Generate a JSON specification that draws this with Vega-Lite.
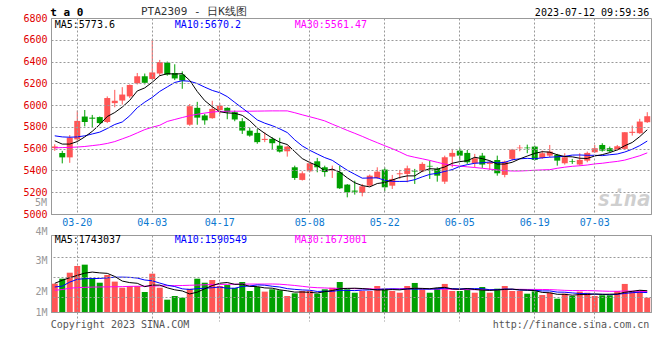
{
  "$schema": "https://vega.github.io/schema/vega-lite/v6.json",
  "background": "#ffffff",
  "padding": {"left": 22, "top": 5, "right": 8, "bottom": 4},
  "bounds": "flush",
  "spacing": 21,
  "config": {
    "font": "DejaVu Sans Mono",
    "view": {"stroke": "#999999", "strokeWidth": 1, "fill": null},
    "axis": {"labelFont": "DejaVu Sans Mono", "labelFontSize": 10, "ticks": false, "domain": false, "zindex": 1}
  },
  "datasets": {
    "k": [
      {"d":"03-15","o":5605,"h":5640,"l":5580,"c":5620,"v":2320000,"m5":5672,"m10":5718,"m30":5607,"vm5":2350000,"vm10":2050000,"vm30":1780000},
      {"d":"03-16","o":5560,"h":5580,"l":5465,"c":5520,"v":2730000,"m5":5642,"m10":5708,"m30":5610,"vm5":2600000,"vm10":2120000,"vm30":1840000},
      {"d":"03-17","o":5520,"h":5725,"l":5470,"c":5700,"v":3220000,"m5":5642,"m10":5705,"m30":5612,"vm5":2810000,"vm10":2450000,"vm30":1950000},
      {"d":"03-20","o":5685,"h":5950,"l":5670,"c":5855,"v":3770000,"m5":5665,"m10":5708,"m30":5615,"vm5":3000000,"vm10":2680000,"vm30":2000000},
      {"d":"03-21","o":5895,"h":5955,"l":5805,"c":5845,"v":3880000,"m5":5708,"m10":5718,"m30":5620,"vm5":3184000,"vm10":2730000,"vm30":2020000},
      {"d":"03-22","o":5885,"h":5910,"l":5797,"c":5875,"v":2760000,"m5":5759,"m10":5735,"m30":5628,"vm5":3272000,"vm10":2740000,"vm30":2040000},
      {"d":"03-23","o":5890,"h":5895,"l":5825,"c":5835,"v":2400000,"m5":5822,"m10":5752,"m30":5636,"vm5":3206000,"vm10":2750000,"vm30":2050000},
      {"d":"03-24","o":5845,"h":6080,"l":5835,"c":6065,"v":3030000,"m5":5895,"m10":5785,"m30":5648,"vm5":3168000,"vm10":2800000,"vm30":2060000},
      {"d":"03-27","o":6018,"h":6140,"l":5980,"c":6040,"v":2490000,"m5":5932,"m10":5822,"m30":5665,"vm5":2912000,"vm10":2850000,"vm30":2070000},
      {"d":"03-28","o":6042,"h":6165,"l":6005,"c":6097,"v":1990000,"m5":5982,"m10":5845,"m30":5690,"vm5":2534000,"vm10":2859000,"vm30":2080000},
      {"d":"03-29","o":6080,"h":6190,"l":6065,"c":6185,"v":2130000,"m5":6044,"m10":5902,"m30":5715,"vm5":2408000,"vm10":2840000,"vm30":2100000},
      {"d":"03-30","o":6200,"h":6295,"l":6190,"c":6265,"v":2130000,"m5":6130,"m10":5976,"m30":5745,"vm5":2354000,"vm10":2780000,"vm30":2110000},
      {"d":"03-31","o":6265,"h":6290,"l":6190,"c":6205,"v":1640000,"m5":6158,"m10":6027,"m30":5775,"vm5":2076000,"vm10":2622000,"vm30":2120000},
      {"d":"04-03","o":6240,"h":6600,"l":6230,"c":6300,"v":3140000,"m5":6210,"m10":6071,"m30":5797,"vm5":2206000,"vm10":2559000,"vm30":2130000},
      {"d":"04-04","o":6290,"h":6415,"l":6270,"c":6395,"v":1990000,"m5":6270,"m10":6126,"m30":5815,"vm5":2206000,"vm10":2370000,"vm30":2140000},
      {"d":"04-06","o":6390,"h":6400,"l":6270,"c":6280,"v":1010000,"m5":6289,"m10":6167,"m30":5850,"vm5":1982000,"vm10":2195000,"vm30":2150000},
      {"d":"04-07","o":6295,"h":6375,"l":6230,"c":6245,"v":1310000,"m5":6285,"m10":6208,"m30":5868,"vm5":1818000,"vm10":2086000,"vm30":2160000},
      {"d":"04-10","o":6280,"h":6310,"l":6150,"c":6225,"v":1170000,"m5":6289,"m10":6224,"m30":5886,"vm5":1724000,"vm10":1900000,"vm30":2170000},
      {"d":"04-11","o":5820,"h":6010,"l":5810,"c":5990,"v":1910000,"m5":6227,"m10":6219,"m30":5903,"vm5":1478000,"vm10":1842000,"vm30":2190000},
      {"d":"04-12","o":5975,"h":6030,"l":5820,"c":5885,"v":2730000,"m5":6125,"m10":6198,"m30":5916,"vm5":1626000,"vm10":1916000,"vm30":2210000},
      {"d":"04-13","o":5905,"h":5920,"l":5820,"c":5860,"v":2400000,"m5":6041,"m10":6165,"m30":5927,"vm5":1904000,"vm10":1943000,"vm30":2230000},
      {"d":"04-14","o":5880,"h":6040,"l":5875,"c":5965,"v":2620000,"m5":5985,"m10":6135,"m30":5936,"vm5":2166000,"vm10":1992000,"vm30":2250000},
      {"d":"04-17","o":5955,"h":6020,"l":5915,"c":5995,"v":2130000,"m5":5939,"m10":6114,"m30":5942,"vm5":2358000,"vm10":2041000,"vm30":2260000},
      {"d":"04-18","o":5975,"h":5980,"l":5870,"c":5935,"v":2210000,"m5":5928,"m10":6078,"m30":5944,"vm5":2418000,"vm10":1948000,"vm30":2270000},
      {"d":"04-19","o":5935,"h":5950,"l":5852,"c":5868,"v":1970000,"m5":5925,"m10":6025,"m30":5944,"vm5":2266000,"vm10":1946000,"vm30":2280000},
      {"d":"04-20","o":5852,"h":5880,"l":5735,"c":5766,"v":2460000,"m5":5906,"m10":5973,"m30":5944,"vm5":2278000,"vm10":2091000,"vm30":2280000},
      {"d":"04-21","o":5765,"h":5795,"l":5710,"c":5720,"v":1720000,"m5":5857,"m10":5921,"m30":5944,"vm5":2098000,"vm10":2132000,"vm30":2290000},
      {"d":"04-24","o":5745,"h":5780,"l":5645,"c":5660,"v":2050000,"m5":5790,"m10":5864,"m30":5945,"vm5":2082000,"vm10":2220000,"vm30":2290000},
      {"d":"04-25","o":5680,"h":5750,"l":5660,"c":5690,"v":1670000,"m5":5741,"m10":5834,"m30":5946,"vm5":1974000,"vm10":2196000,"vm30":2290000},
      {"d":"04-26","o":5690,"h":5705,"l":5590,"c":5650,"v":1860000,"m5":5697,"m10":5811,"m30":5947,"vm5":1952000,"vm10":2109000,"vm30":2295000},
      {"d":"04-27","o":5628,"h":5700,"l":5564,"c":5573,"v":1780000,"m5":5659,"m10":5782,"m30":5947,"vm5":1816000,"vm10":2047000,"vm30":2277000},
      {"d":"04-28","o":5576,"h":5628,"l":5527,"c":5619,"v":1310000,"m5":5638,"m10":5748,"m30":5947,"vm5":1734000,"vm10":1916000,"vm30":2229000},
      {"d":"05-04","o":5429,"h":5444,"l":5313,"c":5331,"v":1530000,"m5":5573,"m10":5681,"m30":5930,"vm5":1630000,"vm10":1856000,"vm30":2173000},
      {"d":"05-05","o":5313,"h":5392,"l":5307,"c":5374,"v":1720000,"m5":5509,"m10":5625,"m30":5911,"vm5":1640000,"vm10":1807000,"vm30":2105000},
      {"d":"05-08","o":5392,"h":5484,"l":5383,"c":5466,"v":1720000,"m5":5473,"m10":5585,"m30":5893,"vm5":1612000,"vm10":1782000,"vm30":2033000},
      {"d":"05-09","o":5484,"h":5515,"l":5383,"c":5429,"v":1500000,"m5":5444,"m10":5551,"m30":5875,"vm5":1556000,"vm10":1686000,"vm30":1991000},
      {"d":"05-10","o":5429,"h":5444,"l":5343,"c":5385,"v":1860000,"m5":5397,"m10":5518,"m30":5855,"vm5":1666000,"vm10":1700000,"vm30":1973000},
      {"d":"05-11","o":5400,"h":5444,"l":5331,"c":5408,"v":1990000,"m5":5412,"m10":5493,"m30":5825,"vm5":1758000,"vm10":1694000,"vm30":1938000},
      {"d":"05-12","o":5383,"h":5444,"l":5230,"c":5236,"v":2460000,"m5":5385,"m10":5447,"m30":5797,"vm5":1906000,"vm10":1773000,"vm30":1937000},
      {"d":"05-15","o":5270,"h":5275,"l":5153,"c":5200,"v":1860000,"m5":5332,"m10":5402,"m30":5768,"vm5":1934000,"vm10":1773000,"vm30":1933000},
      {"d":"05-16","o":5215,"h":5306,"l":5178,"c":5205,"v":1580000,"m5":5287,"m10":5365,"m30":5741,"vm5":1950000,"vm10":1753000,"vm30":1914000},
      {"d":"05-17","o":5193,"h":5276,"l":5162,"c":5254,"v":1720000,"m5":5261,"m10":5329,"m30":5713,"vm5":1922000,"vm10":1794000,"vm30":1901000},
      {"d":"05-18","o":5260,"h":5362,"l":5254,"c":5352,"v":1720000,"m5":5249,"m10":5331,"m30":5683,"vm5":1868000,"vm10":1813000,"vm30":1903000},
      {"d":"05-19","o":5331,"h":5429,"l":5322,"c":5389,"v":2130000,"m5":5280,"m10":5332,"m30":5655,"vm5":1802000,"vm10":1854000,"vm30":1870000},
      {"d":"05-22","o":5408,"h":5429,"l":5208,"c":5245,"v":1910000,"m5":5289,"m10":5310,"m30":5627,"vm5":1812000,"vm10":1873000,"vm30":1867000},
      {"d":"05-23","o":5260,"h":5359,"l":5230,"c":5322,"v":1720000,"m5":5312,"m10":5300,"m30":5600,"vm5":1840000,"vm10":1895000,"vm30":1891000},
      {"d":"05-24","o":5365,"h":5405,"l":5322,"c":5374,"v":1580000,"m5":5336,"m10":5299,"m30":5570,"vm5":1812000,"vm10":1867000,"vm30":1900000},
      {"d":"05-25","o":5368,"h":5444,"l":5291,"c":5420,"v":2130000,"m5":5350,"m10":5300,"m30":5537,"vm5":1894000,"vm10":1881000,"vm30":1932000},
      {"d":"05-26","o":5395,"h":5414,"l":5276,"c":5390,"v":2380000,"m5":5350,"m10":5315,"m30":5521,"vm5":1944000,"vm10":1873000,"vm30":1947000},
      {"d":"05-29","o":5392,"h":5475,"l":5385,"c":5460,"v":1860000,"m5":5393,"m10":5341,"m30":5507,"vm5":1934000,"vm10":1873000,"vm30":1918000},
      {"d":"05-30","o":5442,"h":5490,"l":5322,"c":5436,"v":1580000,"m5":5416,"m10":5364,"m30":5492,"vm5":1906000,"vm10":1873000,"vm30":1891000},
      {"d":"05-31","o":5414,"h":5429,"l":5297,"c":5352,"v":1970000,"m5":5412,"m10":5374,"m30":5475,"vm5":1984000,"vm10":1898000,"vm30":1869000},
      {"d":"06-01","o":5297,"h":5536,"l":5276,"c":5521,"v":2300000,"m5":5432,"m10":5391,"m30":5458,"vm5":2018000,"vm10":1956000,"vm30":1875000},
      {"d":"06-02","o":5527,"h":5598,"l":5429,"c":5561,"v":1720000,"m5":5466,"m10":5408,"m30":5448,"vm5":1886000,"vm10":1915000,"vm30":1859000},
      {"d":"06-05","o":5582,"h":5604,"l":5490,"c":5536,"v":1720000,"m5":5481,"m10":5437,"m30":5440,"vm5":1858000,"vm10":1896000,"vm30":1850000},
      {"d":"06-06","o":5561,"h":5588,"l":5460,"c":5475,"v":1910000,"m5":5489,"m10":5453,"m30":5433,"vm5":1924000,"vm10":1915000,"vm30":1832000},
      {"d":"06-07","o":5466,"h":5552,"l":5429,"c":5512,"v":1580000,"m5":5521,"m10":5466,"m30":5427,"vm5":1846000,"vm10":1915000,"vm30":1827000},
      {"d":"06-08","o":5536,"h":5561,"l":5423,"c":5454,"v":2050000,"m5":5508,"m10":5470,"m30":5420,"vm5":1796000,"vm10":1907000,"vm30":1827000},
      {"d":"06-09","o":5460,"h":5490,"l":5405,"c":5475,"v":1580000,"m5":5490,"m10":5478,"m30":5412,"vm5":1768000,"vm10":1827000,"vm30":1824000},
      {"d":"06-12","o":5496,"h":5536,"l":5352,"c":5374,"v":1910000,"m5":5458,"m10":5470,"m30":5405,"vm5":1806000,"vm10":1832000,"vm30":1826000},
      {"d":"06-13","o":5359,"h":5490,"l":5337,"c":5481,"v":2130000,"m5":5459,"m10":5474,"m30":5398,"vm5":1850000,"vm10":1887000,"vm30":1838000},
      {"d":"06-14","o":5506,"h":5598,"l":5490,"c":5592,"v":1720000,"m5":5475,"m10":5498,"m30":5395,"vm5":1878000,"vm10":1862000,"vm30":1851000},
      {"d":"06-15","o":5604,"h":5634,"l":5576,"c":5610,"v":1720000,"m5":5506,"m10":5507,"m30":5395,"vm5":1812000,"vm10":1804000,"vm30":1858000},
      {"d":"06-16","o":5610,"h":5637,"l":5558,"c":5604,"v":1500000,"m5":5532,"m10":5511,"m30":5398,"vm5":1796000,"vm10":1782000,"vm30":1850000},
      {"d":"06-19","o":5619,"h":5628,"l":5490,"c":5497,"v":1690000,"m5":5557,"m10":5507,"m30":5402,"vm5":1752000,"vm10":1779000,"vm30":1849000},
      {"d":"06-20","o":5515,"h":5582,"l":5506,"c":5558,"v":1390000,"m5":5572,"m10":5516,"m30":5405,"vm5":1604000,"vm10":1727000,"vm30":1846000},
      {"d":"06-21","o":5536,"h":5634,"l":5521,"c":5573,"v":1580000,"m5":5568,"m10":5522,"m30":5407,"vm5":1576000,"vm10":1727000,"vm30":1836000},
      {"d":"06-26","o":5543,"h":5552,"l":5444,"c":5490,"v":1090000,"m5":5544,"m10":5525,"m30":5420,"vm5":1450000,"vm10":1631000,"vm30":1806000},
      {"d":"06-27","o":5466,"h":5558,"l":5454,"c":5521,"v":1500000,"m5":5528,"m10":5530,"m30":5430,"vm5":1450000,"vm10":1623000,"vm30":1774000},
      {"d":"06-28","o":5487,"h":5506,"l":5460,"c":5481,"v":1310000,"m5":5525,"m10":5541,"m30":5438,"vm5":1374000,"vm10":1563000,"vm30":1756000},
      {"d":"06-29","o":5454,"h":5558,"l":5444,"c":5497,"v":1670000,"m5":5512,"m10":5542,"m30":5443,"vm5":1430000,"vm10":1517000,"vm30":1759000},
      {"d":"06-30","o":5490,"h":5573,"l":5475,"c":5561,"v":1580000,"m5":5510,"m10":5539,"m30":5450,"vm5":1430000,"vm10":1503000,"vm30":1754000},
      {"d":"07-03","o":5567,"h":5634,"l":5561,"c":5604,"v":1310000,"m5":5533,"m10":5539,"m30":5460,"vm5":1474000,"vm10":1462000,"vm30":1741000},
      {"d":"07-04","o":5634,"h":5650,"l":5573,"c":5582,"v":1370000,"m5":5545,"m10":5536,"m30":5466,"vm5":1448000,"vm10":1449000,"vm30":1715000},
      {"d":"07-05","o":5604,"h":5619,"l":5567,"c":5576,"v":1370000,"m5":5564,"m10":5544,"m30":5475,"vm5":1460000,"vm10":1417000,"vm30":1697000},
      {"d":"07-06","o":5588,"h":5634,"l":5582,"c":5622,"v":1720000,"m5":5589,"m10":5551,"m30":5483,"vm5":1470000,"vm10":1450000,"vm30":1697000},
      {"d":"07-07","o":5598,"h":5751,"l":5588,"c":5751,"v":2300000,"m5":5627,"m10":5569,"m30":5495,"vm5":1614000,"vm10":1522000,"vm30":1721000},
      {"d":"07-10","o":5745,"h":5812,"l":5720,"c":5755,"v":1720000,"m5":5657,"m10":5595,"m30":5515,"vm5":1696000,"vm10":1585000,"vm30":1708000},
      {"d":"07-11","o":5742,"h":5874,"l":5736,"c":5849,"v":1800000,"m5":5711,"m10":5628,"m30":5535,"vm5":1782000,"vm10":1615000,"vm30":1688000},
      {"d":"07-12","o":5843,"h":5935,"l":5837,"c":5898,"v":1170000,"m5":5773.6,"m10":5670.2,"m30":5561.47,"vm5":1743037,"vm10":1590549,"vm30":1673001}
    ]
  },
  "vconcat": [
    {
      "width": 600,
      "height": 196,
      "view": {"stroke": "#999999", "strokeWidth": 1, "fill": null},
      "data": {"name": "k"},
      "resolve": {"axis": {"y": "independent"}},
      "encoding": {
        "x": {
          "field": "d", "type": "ordinal", "sort": null, "title": null,
          "scale": {"paddingInner": 0, "paddingOuter": 0},
          "axis": {
            "values": ["03-20", "04-03", "04-17", "05-08", "05-22", "06-05", "06-19", "07-03"],
            "bandPosition": 0.5, "grid": true, "gridDash": [2, 2], "gridColor": "#999999", "labelAngle": 0, "labelColor": "#0b78d0", "labelPadding": 3,
            "domain": true, "domainColor": "#999999", "zindex": 1
          }
        }
      },
      "layer": [
        {
          "mark": {"type": "rule", "strokeWidth": 1},
          "encoding": {
            "y": {
              "field": "l", "type": "quantitative", "title": null,
              "scale": {"domain": [5000, 6800], "nice": false, "zero": false},
              "axis": {"values": [5000, 5200, 5400, 5600, 5800, 6000, 6200, 6400, 6600, 6800], "format": "d", "grid": true, "gridDash": [2, 2], "gridColor": "#999999", "labelColor": "#e00000", "labelPadding": 4, "labelOverlap": false, "domain": true, "domainColor": "#999999", "zindex": 1}
            },
            "y2": {"field": "h"},
            "color": {"condition": {"test": "datum.c >= datum.o", "value": "#ff5555"}, "value": "#00a000"}
          }
        },
        {
          "mark": {"type": "bar", "width": {"band": 0.8}},
          "encoding": {
            "y": {"field": "o", "type": "quantitative", "title": null, "axis": null},
            "y2": {"field": "c"},
            "color": {"condition": {"test": "datum.c >= datum.o", "value": "#ff5555"}, "value": "#00a000"}
          }
        },
        {
          "mark": {"type": "line", "color": "#ff00ff", "strokeWidth": 1},
          "encoding": {"y": {"field": "m30", "type": "quantitative", "title": null, "axis": null}}
        },
        {
          "mark": {"type": "line", "color": "#0000ff", "strokeWidth": 1},
          "encoding": {"y": {"field": "m10", "type": "quantitative", "title": null, "axis": null}}
        },
        {
          "mark": {"type": "line", "color": "#000000", "strokeWidth": 1},
          "encoding": {"y": {"field": "m5", "type": "quantitative", "title": null, "axis": null}}
        },
        {
          "data": {"values": [{}]},
          "mark": {"type": "text", "text": "MA5:5773.6", "align": "left", "baseline": "middle", "dy": 7, "fontSize": 10, "color": "#000000"},
          "encoding": {"x": {"datum": "03-15", "type": "ordinal"}, "y": {"datum": 6800, "type": "quantitative", "axis": null}}
        },
        {
          "data": {"values": [{}]},
          "mark": {"type": "text", "text": "MA10:5670.2", "align": "left", "baseline": "middle", "dy": 7, "fontSize": 10, "color": "#0000ff"},
          "encoding": {"x": {"datum": "04-07", "type": "ordinal"}, "y": {"datum": 6800, "type": "quantitative", "axis": null}}
        },
        {
          "data": {"values": [{}]},
          "mark": {"type": "text", "text": "MA30:5561.47", "align": "left", "baseline": "middle", "dy": 7, "fontSize": 10, "color": "#ff00ff"},
          "encoding": {"x": {"datum": "05-04", "type": "ordinal"}, "y": {"datum": 6800, "type": "quantitative", "axis": null}}
        },
        {
          "data": {"values": [{}]},
          "mark": {"type": "text", "text": "t a 0", "align": "left", "baseline": "middle", "dx": -4.5, "dy": -5, "fontSize": 11, "fontWeight": "bold", "color": "#000000"},
          "encoding": {"x": {"datum": "03-15", "type": "ordinal"}, "y": {"datum": 6800, "type": "quantitative", "axis": null}}
        },
        {
          "data": {"values": [{}]},
          "mark": {"type": "text", "text": "PTA2309 - 日K线图", "align": "left", "baseline": "middle", "dx": -3.75, "dy": -6, "fontSize": 11, "color": "#333333"},
          "encoding": {"x": {"datum": "03-31", "type": "ordinal"}, "y": {"datum": 6800, "type": "quantitative", "axis": null}}
        },
        {
          "data": {"values": [{}]},
          "mark": {"type": "text", "text": "2023-07-12 09:59:36", "align": "right", "baseline": "middle", "dx": 2, "dy": -5, "fontSize": 10, "color": "#000000"},
          "encoding": {"x": {"datum": "07-12", "type": "ordinal"}, "y": {"datum": 6800, "type": "quantitative", "axis": null}}
        },
        {
          "data": {"values": [{}]},
          "mark": {"type": "text", "text": "sina", "align": "right", "baseline": "bottom", "dx": 3, "dy": -3, "fontSize": 22, "fontStyle": "italic", "fontWeight": "bold", "color": "#cfcfcf"},
          "encoding": {"x": {"datum": "07-12", "type": "ordinal"}, "y": {"datum": 5000, "type": "quantitative", "axis": null}}
        }
      ]
    },
    {
      "width": 600,
      "height": 77,
      "view": {"stroke": "#999999", "strokeWidth": 1, "fill": null},
      "data": {"name": "k"},
      "resolve": {"axis": {"y": "independent"}},
      "encoding": {
        "x": {
          "field": "d", "type": "ordinal", "sort": null, "title": null,
          "scale": {"paddingInner": 0, "paddingOuter": 0},
          "axis": {
            "values": ["03-20", "04-03", "04-17", "05-08", "05-22", "06-05", "06-19", "07-03"],
            "bandPosition": 0.5, "grid": true, "gridDash": [2, 2], "gridColor": "#999999", "labels": false, "ticks": true, "tickSize": 9, "tickDash": [2, 2], "tickColor": "#999999",
            "domain": true, "domainColor": "#999999", "zindex": 1
          }
        }
      },
      "layer": [
        {
          "mark": {"type": "bar", "width": {"band": 0.8}},
          "encoding": {
            "y": {
              "field": "v", "type": "quantitative", "title": null,
              "scale": {"domain": [0, 6310000], "nice": false},
              "axis": {
                "values": [0, 1720000, 4180000, 6310000], "grid": false, "labelColor": "#999999", "labelPadding": 4, "labelOverlap": false,
                "labelExpr": "datum.value == 0 ? '1M' : datum.value < 2000000 ? '2M' : datum.value < 5000000 ? '3M' : '4M'",
                "labelOffset": {"condition": {"test": "datum.value > 6000000", "value": -4}, "value": 0},
                "domain": true, "domainColor": "#999999", "zindex": 1
              }
            },
            "color": {"condition": {"test": "datum.c >= datum.o", "value": "#ff5555"}, "value": "#00a000"}
          }
        },
        {
          "mark": {"type": "line", "color": "#ff00ff", "strokeWidth": 1},
          "encoding": {"y": {"field": "vm30", "type": "quantitative", "title": null,
            "axis": {"orient": "right", "values": [1250000, 2890000, 4530000], "grid": true, "gridDash": [2, 2], "gridColor": "#999999", "labels": false, "ticks": false, "domain": true, "domainColor": "#999999", "zindex": 1}}}
        },
        {
          "mark": {"type": "line", "color": "#0000ff", "strokeWidth": 1},
          "encoding": {"y": {"field": "vm10", "type": "quantitative", "title": null, "axis": null}}
        },
        {
          "mark": {"type": "line", "color": "#000000", "strokeWidth": 1},
          "encoding": {"y": {"field": "vm5", "type": "quantitative", "title": null, "axis": null}}
        },
        {
          "data": {"values": [{}]},
          "mark": {"type": "text", "text": "MA5:1743037", "align": "left", "baseline": "middle", "dy": 4.5, "fontSize": 10, "color": "#000000"},
          "encoding": {"x": {"datum": "03-15", "type": "ordinal"}, "y": {"datum": 6310000, "type": "quantitative", "axis": null}}
        },
        {
          "data": {"values": [{}]},
          "mark": {"type": "text", "text": "MA10:1590549", "align": "left", "baseline": "middle", "dy": 4.5, "fontSize": 10, "color": "#0000ff"},
          "encoding": {"x": {"datum": "04-07", "type": "ordinal"}, "y": {"datum": 6310000, "type": "quantitative", "axis": null}}
        },
        {
          "data": {"values": [{}]},
          "mark": {"type": "text", "text": "MA30:1673001", "align": "left", "baseline": "middle", "dy": 4.5, "fontSize": 10, "color": "#ff00ff"},
          "encoding": {"x": {"datum": "05-04", "type": "ordinal"}, "y": {"datum": 6310000, "type": "quantitative", "axis": null}}
        },
        {
          "data": {"values": [{}]},
          "mark": {"type": "text", "text": "5M", "align": "right", "baseline": "middle", "dx": -7.75, "dy": -32, "fontSize": 10, "color": "#999999"},
          "encoding": {"x": {"datum": "03-15", "type": "ordinal"}, "y": {"datum": 6310000, "type": "quantitative", "axis": null}}
        },
        {
          "data": {"values": [{}]},
          "mark": {"type": "text", "text": "Copyright 2023 SINA.COM", "align": "left", "baseline": "middle", "dx": -4, "dy": 12.5, "fontSize": 10, "color": "#555555"},
          "encoding": {"x": {"datum": "03-15", "type": "ordinal"}, "y": {"datum": 0, "type": "quantitative", "axis": null}}
        },
        {
          "data": {"values": [{}]},
          "mark": {"type": "text", "text": "http://finance.sina.com.cn", "align": "right", "baseline": "middle", "dx": 2, "dy": 12.5, "fontSize": 10, "color": "#555555"},
          "encoding": {"x": {"datum": "07-12", "type": "ordinal"}, "y": {"datum": 0, "type": "quantitative", "axis": null}}
        }
      ]
    }
  ]
}
